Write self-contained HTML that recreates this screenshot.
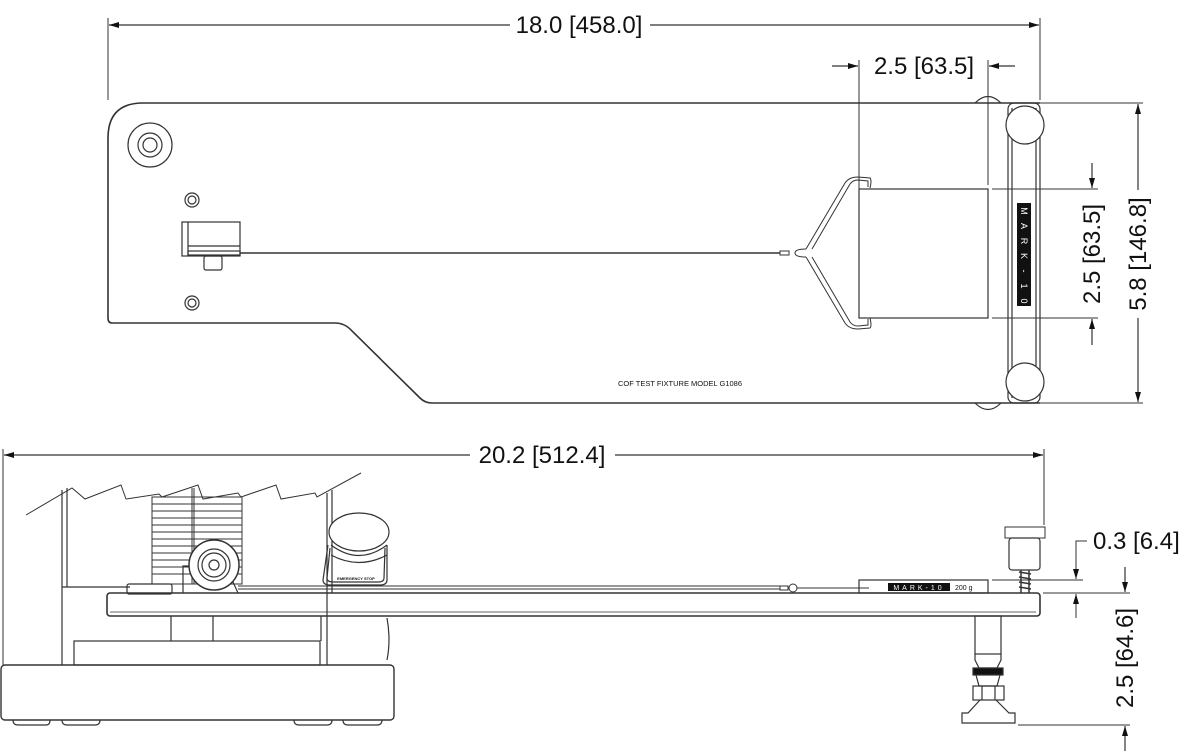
<!DOCTYPE html>
<html><head><meta charset="utf-8"><style>
html,body{margin:0;padding:0;background:#fff;}
svg{display:block;}
text{font-family:"Liberation Sans",sans-serif;fill:#111;}
</style></head><body>
<svg width="1200" height="751" viewBox="0 0 1200 751" xmlns="http://www.w3.org/2000/svg">
<defs>
<marker id="a" viewBox="0 0 10 6" refX="10" refY="3" markerWidth="10" markerHeight="6" orient="auto" markerUnits="userSpaceOnUse"><path d="M0,0 L10,3 L0,6 z" fill="#111"/></marker>
</defs>
<g fill="none" stroke="#333" stroke-width="1.2">
<line x1="108" y1="18" x2="108" y2="100" stroke-width="1"/>
<line x1="1040" y1="18" x2="1040" y2="100" stroke-width="1"/>
<line x1="510" y1="25" x2="109" y2="25" marker-end="url(#a)"/>
<line x1="650" y1="25" x2="1039" y2="25" marker-end="url(#a)"/>
<path d="M143,103 L1040,103 M1040,403 L432,403 Q425,403 420,398 L352,331 Q345,323 335,323 L112,323 Q108,323 108,318 L108,138 Q108,103 143,103" stroke-width="1.6"/>
<circle cx="150" cy="145" r="22"/><circle cx="150" cy="145" r="12"/><circle cx="150" cy="145" r="7"/>
<circle cx="192" cy="200" r="7"/><circle cx="192" cy="200" r="4"/>
<circle cx="192" cy="303" r="7"/><circle cx="192" cy="303" r="4"/>
<rect x="182" y="222" width="58" height="34"/>
<line x1="188" y1="246" x2="240" y2="246"/>
<line x1="188" y1="222" x2="188" y2="256"/>
<rect x="188" y="251" width="52" height="4"/>
<rect x="204" y="256" width="18" height="14" rx="2"/>
<line x1="240" y1="253" x2="780" y2="253" stroke-width="1.5"/>
<rect x="780" y="251" width="9" height="4" stroke-width="1"/>
<path d="M812,249 L850,184 Q853,180 858,180 L868,181 L868,187 M806,249 L845,183 Q849,177 858,177 L870,178 Q872,180 870,188" stroke-width="1"/>
<path d="M812,257 L850,322 Q853,326 858,326 L868,325 L868,319 M806,257 L845,323 Q849,329 858,329 L870,328 Q872,326 870,318" stroke-width="1"/>
<path d="M806,249 Q795,249 795,253 Q795,257 806,257" stroke-width="1"/>
<rect x="859" y="189" width="129" height="129"/>
<line x1="859" y1="60" x2="859" y2="189" stroke-width="1"/>
<line x1="988" y1="60" x2="988" y2="185" stroke-width="1"/>
<line x1="832" y1="66" x2="858" y2="66" marker-end="url(#a)"/>
<line x1="1015" y1="66" x2="989" y2="66" marker-end="url(#a)"/>
<path d="M975,103 Q988,90 1001,103" />
<path d="M975,403 Q988,416 1001,403" />
<rect x="1008" y="103" width="32" height="300" rx="6"/>
<line x1="1012" y1="108" x2="1012" y2="398"/>
<line x1="1036" y1="108" x2="1036" y2="398"/>
<circle cx="1025" cy="125" r="19" fill="#fff"/>
<circle cx="1025" cy="382" r="19" fill="#fff"/>
<line x1="992" y1="189" x2="1098" y2="189" stroke-width="1"/>
<line x1="992" y1="318" x2="1098" y2="318" stroke-width="1"/>
<line x1="1092" y1="163" x2="1092" y2="188" marker-end="url(#a)"/>
<line x1="1092" y1="345" x2="1092" y2="319" marker-end="url(#a)"/>
<line x1="1040" y1="103" x2="1143" y2="103" stroke-width="1"/>
<line x1="1040" y1="403" x2="1143" y2="403" stroke-width="1"/>
<line x1="1138" y1="190" x2="1138" y2="104" marker-end="url(#a)"/>
<line x1="1138" y1="318" x2="1138" y2="402" marker-end="url(#a)"/>

<line x1="3" y1="449" x2="3" y2="665" stroke-width="1"/>
<line x1="1044" y1="449" x2="1044" y2="525" stroke-width="1"/>
<line x1="470" y1="455" x2="4" y2="455" marker-end="url(#a)"/>
<line x1="615" y1="455" x2="1043" y2="455" marker-end="url(#a)"/>
<polyline points="26,515 72,488 85,499 121,485 126,499 159,494 162,497 198,485 203,499 238,493 241,497 276,485 281,499 315,493 317,497 361,473" stroke-width="1"/>
<line x1="62" y1="490" x2="62" y2="665"/><line x1="67" y1="488" x2="67" y2="587"/>
<line x1="327" y1="493" x2="327" y2="665"/><line x1="332" y1="490" x2="332" y2="593"/>
<line x1="62" y1="587" x2="130" y2="587"/>
<g stroke-width="1">
<rect x="152" y="497" width="90" height="87"/>
<line x1="152" y1="504" x2="242" y2="504"/><line x1="152" y1="511" x2="242" y2="511"/><line x1="152" y1="518" x2="242" y2="518"/><line x1="152" y1="525" x2="242" y2="525"/><line x1="152" y1="532" x2="242" y2="532"/><line x1="152" y1="539" x2="242" y2="539"/><line x1="152" y1="546" x2="242" y2="546"/><line x1="152" y1="553" x2="242" y2="553"/><line x1="152" y1="560" x2="242" y2="560"/><line x1="152" y1="567" x2="242" y2="567"/><line x1="152" y1="574" x2="242" y2="574"/>
<line x1="192" y1="488" x2="192" y2="584"/><line x1="194" y1="488" x2="194" y2="584"/>
</g>
<path d="M183,593 L183,566 L190,566"/>
<circle cx="214" cy="565" r="25" fill="#fff" stroke-width="1.5"/>
<circle cx="214" cy="565" r="16"/><circle cx="214" cy="565" r="12"/><circle cx="214" cy="565" r="5"/>
<path d="M233,582 L238,593"/>
<rect x="127" y="584" width="45" height="10" rx="2"/>
<path d="M328,545 L323,580 Q323,585 330,585 L380,585 Q387,585 387,580 L387,545"/>
<path d="M330,548 L327,578 Q327,582 333,582 L378,582 Q384,582 384,578 L385,548"/>
<ellipse cx="359" cy="532" rx="30" ry="19" fill="#fff"/>
<path d="M331,545 Q359,566 387,545"/>
<path d="M331,555 Q359,570 387,555"/>
<text x="356" y="580" font-size="4" text-anchor="middle" stroke="none" font-weight="bold">EMERGENCY STOP</text>
<line x1="238" y1="586" x2="780" y2="586" stroke-width="1"/>
<line x1="238" y1="589" x2="780" y2="589" stroke-width="1"/>
<rect x="780" y="586" width="8" height="4" stroke-width="1"/>
<circle cx="793" cy="588" r="4" stroke-width="1"/>
<line x1="797" y1="588" x2="869" y2="588" stroke-width="1"/>
<rect x="107" y="593" width="933" height="23" rx="3" stroke-width="1.6"/>
<line x1="110" y1="612" x2="1036" y2="612" stroke-width="0.8"/>
<line x1="171" y1="616" x2="171" y2="641"/><line x1="213" y1="616" x2="213" y2="641"/>
<line x1="321" y1="616" x2="321" y2="641"/>
<path d="M387,618 Q391,640 387,660"/>
<rect x="74" y="641" width="246" height="24"/>
<rect x="1" y="665" width="393" height="55" rx="4" stroke-width="1.4"/>
<path d="M13,720 Q13,725 18,725 L46,725 Q50,725 50,720"/>
<path d="M62,720 Q62,725 67,725 L95,725 Q100,725 100,720"/>
<path d="M294,720 Q294,725 299,725 L327,725 Q332,725 332,720"/>
<path d="M343,720 Q343,725 348,725 L377,725 Q382,725 382,720"/>
<rect x="859" y="580" width="129" height="13"/>
<rect x="1005" y="527" width="40" height="11" stroke-width="1"/>
<rect x="1009" y="538" width="31" height="32" rx="3"/>
<path d="M1019,572 L1031,574 M1019,577 L1031,579 M1019,582 L1031,584 M1019,587 L1031,589 M1021,570 L1021,593 M1029,570 L1029,593" stroke-width="1.5"/>
<rect x="975" y="616" width="26" height="38"/>
<path d="M975,654 L975,660 L979,668 L997,668 L1001,660 L1001,654"/>
<rect x="973" y="668" width="30" height="7" fill="#111"/>
<path d="M976,675 L979,686 L997,686 L1000,675"/>
<rect x="973" y="686" width="31" height="14"/>
<line x1="982" y1="686" x2="982" y2="700"/><line x1="995" y1="686" x2="995" y2="700"/>
<path d="M980,700 L968,713 L962,713 L962,723 L1015,723 L1015,713 L1009,713 L996,700"/>
<line x1="992" y1="580" x2="1083" y2="580" stroke-width="1"/>
<line x1="1043" y1="593" x2="1130" y2="593" stroke-width="1"/>
<polyline points="1087,541 1076,541 1076,579" marker-end="url(#a)" stroke-width="1"/>
<line x1="1076" y1="618" x2="1076" y2="594" marker-end="url(#a)" stroke-width="1"/>
<line x1="1125" y1="567" x2="1125" y2="592" marker-end="url(#a)"/>
<line x1="1018" y1="725" x2="1130" y2="725" stroke-width="1"/>
<line x1="1125" y1="751" x2="1125" y2="726" marker-end="url(#a)"/>
</g>
<rect x="1017" y="203" width="14" height="103" fill="#111"/>
<g font-size="9">
<text x="1024" y="214" text-anchor="middle" style="fill:#fff" transform="rotate(90 1024 211)">M</text>
<text x="1024" y="229" text-anchor="middle" style="fill:#fff" transform="rotate(90 1024 226)">A</text>
<text x="1024" y="244" text-anchor="middle" style="fill:#fff" transform="rotate(90 1024 241)">R</text>
<text x="1024" y="259" text-anchor="middle" style="fill:#fff" transform="rotate(90 1024 256)">K</text>
<text x="1024" y="274" text-anchor="middle" style="fill:#fff" transform="rotate(90 1024 271)">-</text>
<text x="1024" y="289" text-anchor="middle" style="fill:#fff" transform="rotate(90 1024 286)">1</text>
<text x="1024" y="304" text-anchor="middle" style="fill:#fff" transform="rotate(90 1024 301)">0</text>
</g>
<rect x="888" y="583" width="62" height="8" fill="#111"/>
<text x="919" y="590" font-size="7" text-anchor="middle" style="fill:#fff;letter-spacing:3px">MARK-10</text>
<text x="955" y="590" font-size="7">200 g</text>
<text x="579" y="33" font-size="24" text-anchor="middle">18.0 [458.0]</text>
<text x="924" y="74" font-size="24" text-anchor="middle">2.5 [63.5]</text>
<text x="0" y="0" font-size="24" text-anchor="middle" transform="translate(1100,254) rotate(-90)">2.5 [63.5]</text>
<text x="0" y="0" font-size="24" text-anchor="middle" transform="translate(1146,254) rotate(-90)">5.8 [146.8]</text>
<text x="680" y="386" font-size="7.5" text-anchor="middle">COF TEST FIXTURE   MODEL G1086</text>
<text x="542" y="463" font-size="24" text-anchor="middle">20.2 [512.4]</text>
<text x="1093" y="549" font-size="24">0.3 [6.4]</text>
<text x="0" y="0" font-size="24" text-anchor="middle" transform="translate(1133,658) rotate(-90)">2.5 [64.6]</text>
</svg>
</body></html>
